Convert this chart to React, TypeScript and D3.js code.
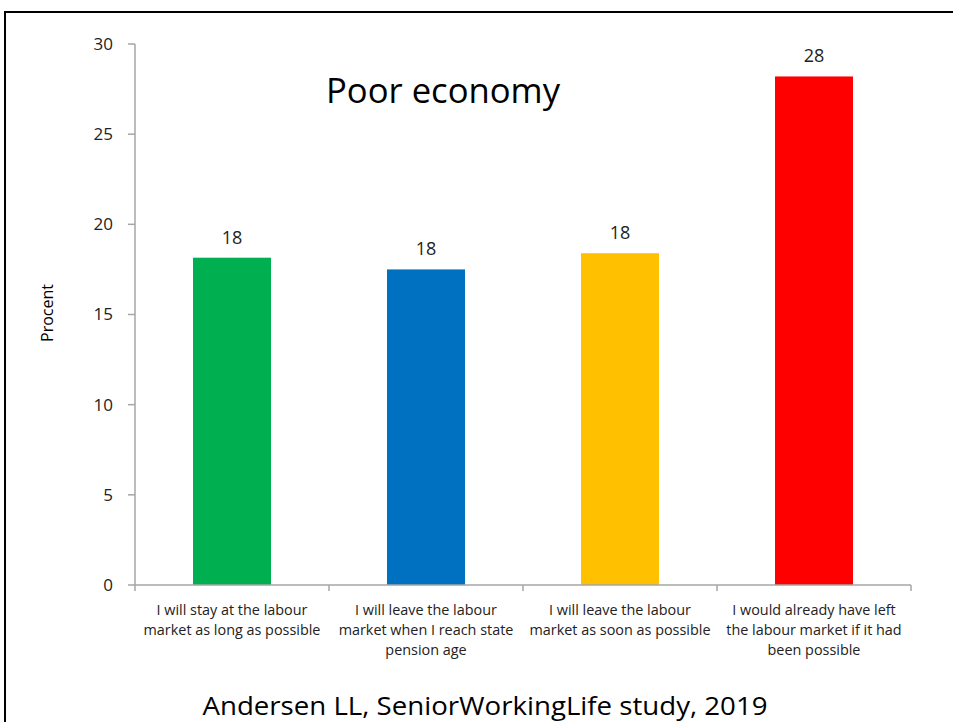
import React from "react";
import * as d3 from "d3";

const categories: string[][] = [
  ["I will stay at the labour", "market as long as possible"],
  ["I  will leave the labour", "market when I reach state", "pension age"],
  ["I will leave the labour", "market as soon as possible"],
  ["I would already have left", "the labour market if it had", "been possible"],
];
const values: number[] = [18.15, 17.5, 18.4, 28.2];
const valueLabels: string[] = ["18", "18", "18", "28"];
const colors: string[] = ["#00B050", "#0070C0", "#FFC000", "#FF0000"];
const yTicks: number[] = [0, 5, 10, 15, 20, 25, 30];
const title = "Poor economy";
const yLabel = "Procent";
const footer = "Andersen LL, SeniorWorkingLife study, 2019";

const W = 953;
const H = 722;
const left = 135;
const right = 911;
const top = 44;
const bottom = 585;
const FONT = "'Open Sans', 'Noto Sans', sans-serif";
const AXIS = "#a6a6a6";

export default function App() {
  const ids = categories.map((_, i) => String(i));
  const x = d3.scaleBand<string>().domain(ids).range([left, right]).paddingInner(0).paddingOuter(0);
  const y = d3.scaleLinear().domain([0, 30]).range([bottom, top]);
  const bw = x.bandwidth() * 0.402;

  return (
    <svg
      width={W}
      height={H}
      viewBox={`0 0 ${W} ${H}`}
      style={{ position: "absolute", left: 0, top: 0, background: "#fff" }}
      fontFamily={FONT}
    >
      <rect x={0} y={0} width={W} height={H} fill="#fff" />
      {/* frame */}
      <path d={`M5,${H + 5} L5,12 L${W + 5},12`} fill="none" stroke="#000" strokeWidth={2} />

      {/* title */}
      <text x={443} y={103} textAnchor="middle" fontSize={34} fill="#000" textLength={234} lengthAdjust="spacingAndGlyphs">
        {title}
      </text>

      {/* y axis */}
      <line x1={left} x2={left} y1={y(30)} y2={y(0)} stroke={AXIS} strokeWidth={1.5} />
      {yTicks.map((t) => (
        <g key={t}>
          <line x1={left - 7} x2={left} y1={y(t)} y2={y(t)} stroke={AXIS} strokeWidth={1.5} />
          <text x={113} y={y(t)} dy="0.35em" textAnchor="end" fontSize={17} fill="#222">
            {t}
          </text>
        </g>
      ))}
      <text
        transform={`translate(53,313) rotate(-90)`}
        textAnchor="middle"
        fontSize={16}
        fill="#000"
      >
        {yLabel}
      </text>

      {/* bars */}
      {values.map((v, i) => {
        const cx = (x(ids[i]) as number) + x.bandwidth() / 2;
        return (
          <g key={i}>
            <rect x={cx - bw / 2} y={y(v)} width={bw} height={y(0) - y(v)} fill={colors[i]} />
            <text x={cx} y={y(v) - 14} textAnchor="middle" fontSize={18} fill="#222">
              {valueLabels[i]}
            </text>
          </g>
        );
      })}

      {/* x axis */}
      <line x1={left} x2={right} y1={y(0)} y2={y(0)} stroke={AXIS} strokeWidth={1.5} />
      {ids.concat(["end"]).map((id, i) => {
        const px = id === "end" ? right : (x(id) as number);
        return <line key={i} x1={px} x2={px} y1={y(0)} y2={y(0) + 6} stroke={AXIS} strokeWidth={1.5} />;
      })}
      {categories.map((lines, i) => {
        const cx = (x(ids[i]) as number) + x.bandwidth() / 2;
        return (
          <text key={i} textAnchor="middle" fontSize={14.4} fill="#222">
            {lines.map((ln, j) => (
              <tspan key={j} x={cx} y={615 + j * 20}>
                {ln}
              </tspan>
            ))}
          </text>
        );
      })}

      {/* footer */}
      <text x={485} y={715} textAnchor="middle" fontSize={26} fill="#000" textLength={565} lengthAdjust="spacingAndGlyphs">
        {footer}
      </text>
    </svg>
  );
}
